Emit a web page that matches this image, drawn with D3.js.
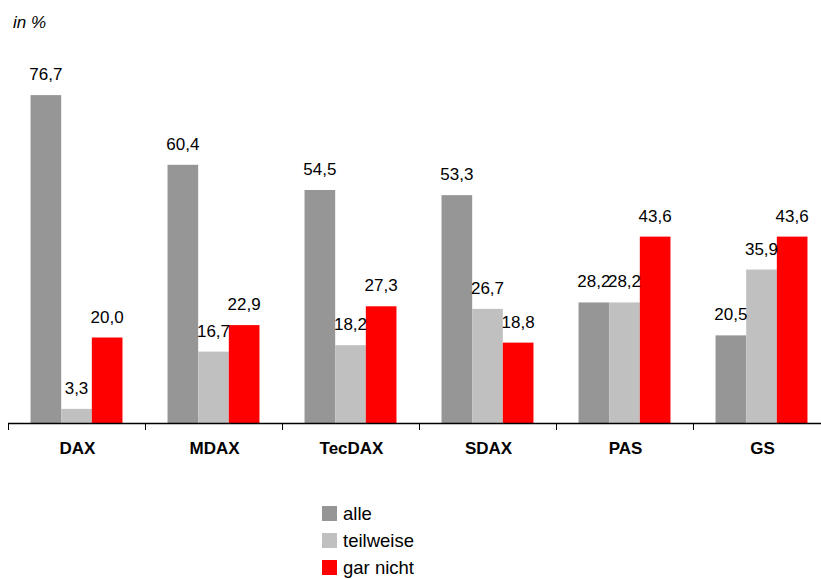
<!DOCTYPE html>
<html>
<head>
<meta charset="utf-8">
<script src="https://cdn.jsdelivr.net/npm/d3@7/dist/d3.min.js"></script>
<style>
  html, body { margin: 0; padding: 0; background: #fff; }
  svg { display: block; font-family: Arial, "Liberation Sans", sans-serif; }
</style>
</head>
<body>
<svg id="chart" width="821" height="579"></svg>
<script>
// Indices / groups on the x axis
const categories = ["DAX", "MDAX", "TecDAX", "SDAX", "PAS", "GS"];
// Answer series
const seriesNames = ["alle", "teilweise", "gar nicht"];
const alle      = [76.7, 60.4, 54.5, 53.3, 28.2, 20.5];
const teilweise = [3.3, 16.7, 18.2, 26.7, 28.2, 35.9];
const garNicht  = [20.0, 22.9, 27.3, 18.8, 43.6, 43.6];
const seriesColors = ["#969696", "#c0c0c0", "#ff0000"];

const values = [alle, teilweise, garNicht];
const rows = categories.map((c, i) => ({
  cat: c,
  vals: seriesNames.map((s, k) => ({ key: s, value: values[k][i], idx: k }))
}));

const svg = d3.select("#chart");
const baseY = 423;

const x0 = d3.scaleBand().domain(categories).range([8, 830]).paddingInner(0).paddingOuter(0);
const x1 = d3.scaleBand().domain(seriesNames).range([0, x0.bandwidth()]).paddingInner(0).paddingOuter(0.735);
const y = d3.scaleLinear().domain([0, 80]).range([baseY, 81]);
const color = d3.scaleOrdinal().domain(seriesNames).range(seriesColors);
const fmt = v => d3.format(".1f")(v).replace(".", ",");

// unit label
svg.append("text")
  .attr("x", 13).attr("y", 28)
  .attr("font-size", 17).attr("font-style", "italic")
  .text("in %");

const groups = svg.selectAll("g.grp").data(rows).join("g")
  .attr("class", "grp")
  .attr("transform", d => `translate(${x0(d.cat)},0)`);

groups.selectAll("rect").data(d => d.vals).join("rect")
  .attr("x", d => x1(d.key))
  .attr("width", x1.bandwidth())
  .attr("y", d => y(d.value))
  .attr("height", d => baseY - y(d.value))
  .attr("fill", d => color(d.key));

groups.selectAll("text.val").data(d => d.vals).join("text")
  .attr("class", "val")
  .attr("x", d => x1(d.key) + x1.bandwidth() / 2)
  .attr("y", d => y(d.value) - 15)
  .attr("text-anchor", "middle")
  .attr("font-size", 17)
  .attr("fill", "#000")
  .text(d => fmt(d.value));

// x axis: baseline, ticks at group boundaries, bold category names
const axis = svg.append("g").attr("class", "axis");
axis.append("line")
  .attr("x1", 8).attr("x2", 821)
  .attr("y1", baseY + 0.5).attr("y2", baseY + 0.5)
  .attr("stroke", "#000").attr("stroke-width", 1.3);
axis.selectAll("line.tick").data(categories).join("line")
  .attr("class", "tick")
  .attr("x1", d => Math.round(x0(d)) + 0.5).attr("x2", d => Math.round(x0(d)) + 0.5)
  .attr("y1", baseY).attr("y2", baseY + 7)
  .attr("stroke", "#000").attr("stroke-width", 1);
axis.selectAll("text").data(categories).join("text")
  .attr("x", d => x0(d) + x0.bandwidth() / 2 + 1)
  .attr("y", 454)
  .attr("text-anchor", "middle")
  .attr("font-size", 17).attr("font-weight", "bold")
  .text(d => d);

// legend
const legend = svg.append("g").attr("transform", "translate(322,506)");
const li = legend.selectAll("g").data(seriesNames).join("g")
  .attr("transform", (d, i) => `translate(0,${i * 27})`);
li.append("rect").attr("width", 15).attr("height", 15).attr("fill", d => color(d));
li.append("text")
  .attr("x", 21).attr("y", 14)
  .attr("font-size", 18.5)
  .text(d => d);
</script>
</body>
</html>
